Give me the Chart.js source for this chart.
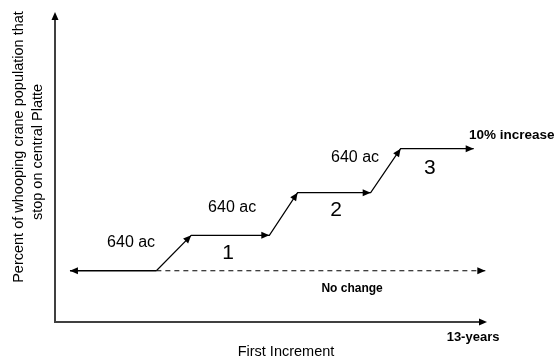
<!DOCTYPE html>
<html>
<head>
<meta charset="utf-8">
<script src="https://cdn.jsdelivr.net/npm/chart.js@4/dist/chart.umd.min.js"></script>
<style>
  html, body { margin: 0; padding: 0; background: #fff; }
  #wrap { width: 559px; height: 362px; }
</style>
</head>
<body>
<div id="wrap"><canvas id="craneChart" width="559" height="362"></canvas></div>
<script>
// Time along the x axis (years), percent change on the y axis
const stepX = [3.05, 4.1, 6.45, 7.3, 9.5, 10.4, 12.6];
const stepY = [0, 2.9, 2.9, 6.4, 6.4, 10, 10];
const baseX = [3.05, 0.45];          // solid part of the baseline, arrow pointing left
const dashX = [3.05, 12.95];         // "no change" dashed line
const baseY = 0;
const acreLabels = ['640 ac', '640 ac', '640 ac'];
const stepLabels = ['1', '2', '3'];
const xTitle = 'First Increment';
const yTitle = ['Percent of whooping crane population that', 'stop on central Platte'];

const FONT = '"Liberation Sans", Arial, sans-serif';

// text notes, placed in data units
const notes = [
  { text: acreLabels[0], x: 2.29, y: 2.3, size: 16 },
  { text: acreLabels[1], x: 5.33, y: 5.2, size: 16 },
  { text: acreLabels[2], x: 9.03, y: 9.3, size: 16 },
  { text: stepLabels[0], x: 5.21, y: 1.43, size: 21 },
  { text: stepLabels[1], x: 8.46, y: 4.96, size: 21 },
  { text: stepLabels[2], x: 11.28, y: 8.44, size: 21 },
  { text: '10% increase', x: 12.46, y: 11.1, size: 13.5, bold: true, align: 'left' },
  { text: 'No change', x: 8.94, y: -1.45, size: 12, bold: true },
  { text: '13-years', x: 12.58, y: -5.5, size: 13, bold: true }
];

function arrowHead(ctx, x, y, ang, len, half) {
  ctx.save();
  ctx.translate(x, y);
  ctx.rotate(ang);
  ctx.beginPath();
  ctx.moveTo(0, 0);
  ctx.lineTo(-len, -half);
  ctx.lineTo(-len, half);
  ctx.closePath();
  ctx.fill();
  ctx.restore();
}

const diagram = {
  id: 'diagram',
  beforeDatasetsDraw(chart) {
    const { ctx, chartArea: a } = chart;
    ctx.save();
    ctx.strokeStyle = '#404040';
    ctx.lineWidth = 2;
    ctx.beginPath();
    ctx.moveTo(a.left, a.top + 4);
    ctx.lineTo(a.left, a.bottom);
    ctx.lineTo(a.right - 4, a.bottom);
    ctx.stroke();
    ctx.fillStyle = '#000';
    arrowHead(ctx, a.left, a.top, -Math.PI / 2, 8, 3.5);
    arrowHead(ctx, a.right, a.bottom, 0, 8, 3.5);

    // axis titles
    ctx.font = '14.5px ' + FONT;
    ctx.textAlign = 'center';
    ctx.textBaseline = 'middle';
    ctx.fillText(xTitle, 286, 352);
    ctx.rotate(-Math.PI / 2);
    ctx.fillText(yTitle[0], -147, 19);
    ctx.fillText(yTitle[1], -152, 38);
    ctx.restore();
  },
  afterDatasetsDraw(chart) {
    const { ctx } = chart;
    ctx.save();
    ctx.fillStyle = '#000';
    chart.data.datasets.forEach((ds, di) => {
      if (!ds.arrowAt) return;
      const pts = chart.getDatasetMeta(di).data;
      ds.arrowAt.forEach(i => {
        const p = pts[i], q = pts[i - 1];
        const ang = Math.atan2(p.y - q.y, p.x - q.x);
        arrowHead(ctx, p.x, p.y, ang, 8, 3.5);
      });
    });
    const xs = chart.scales.x, ys = chart.scales.y;
    notes.forEach(n => {
      ctx.font = (n.bold ? 'bold ' : '') + n.size + 'px ' + FONT;
      ctx.textAlign = n.align || 'center';
      ctx.textBaseline = 'middle';
      ctx.fillText(n.text, xs.getPixelForValue(n.x), ys.getPixelForValue(n.y));
    });
    ctx.restore();
  }
};

const pts = (xs, ys) => xs.map((x, i) => ({ x, y: Array.isArray(ys) ? ys[i] : ys }));

new Chart(document.getElementById('craneChart').getContext('2d'), {
  type: 'scatter',
  data: {
    datasets: [
      {
        data: pts(stepX, stepY),
        showLine: true,
        borderColor: '#000',
        borderWidth: 1.2,
        pointRadius: 0,
        arrowAt: [1, 2, 3, 4, 5, 6]
      },
      {
        data: pts(baseX, baseY),
        showLine: true,
        borderColor: '#000',
        borderWidth: 1.5,
        pointRadius: 0,
        arrowAt: [1]
      },
      {
        data: pts(dashX, baseY),
        showLine: true,
        borderColor: '#000',
        borderWidth: 1.2,
        borderDash: [5, 4],
        pointRadius: 0,
        arrowAt: [1]
      }
    ]
  },
  options: {
    responsive: false,
    animation: false,
    layout: { padding: { left: 55, top: 12, right: 72, bottom: 40 } },
    scales: {
      x: { type: 'linear', min: 0, max: 13, display: false },
      y: { type: 'linear', min: -4.2, max: 21.2, display: false }
    },
    plugins: {
      legend: { display: false },
      tooltip: { enabled: false }
    }
  },
  plugins: [diagram]
});
</script>
</body>
</html>
